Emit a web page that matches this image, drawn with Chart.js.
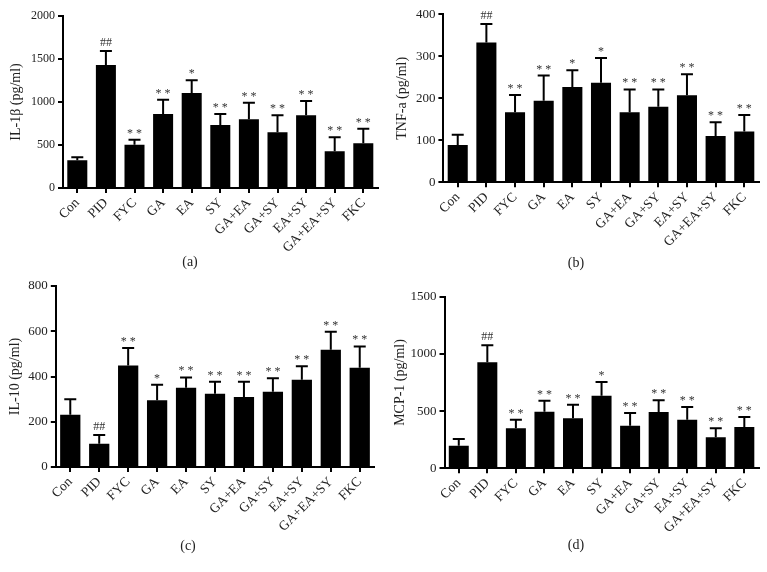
<!DOCTYPE html>
<html>
<head>
<meta charset="utf-8">
<script src="https://cdn.jsdelivr.net/npm/chart.js@4"></script>
<style>
  body { margin: 0; background: #fff; }
  #wrap { position: relative; width: 767px; height: 572px; overflow: hidden; }
  canvas { position: absolute; }
  .cap { position: absolute; transform: translate(-50%, -50%); font: 14px "Liberation Serif", "Times New Roman", serif; color: #222; }
</style>
</head>
<body>
<div id="wrap">
  <canvas id="chartA" width="384" height="286" style="left:0;top:0"></canvas>
  <canvas id="chartB" width="383" height="286" style="left:384px;top:0"></canvas>
  <canvas id="chartC" width="384" height="302" style="left:0;top:270px"></canvas>
  <canvas id="chartD" width="383" height="302" style="left:384px;top:270px"></canvas>
  <div class="cap" style="left:190px;top:262px">(a)</div>
  <div class="cap" style="left:576px;top:263px">(b)</div>
  <div class="cap" style="left:188px;top:546px">(c)</div>
  <div class="cap" style="left:576px;top:545px">(d)</div>
</div>
<script>
const groups = ['Con', 'PID', 'FYC', 'GA', 'EA', 'SY', 'GA+EA', 'GA+SY', 'EA+SY', 'GA+EA+SY', 'FKC'];

// IL-1β
const il1b = [322, 1430, 504, 860, 1105, 733, 798, 647, 845, 426, 519];
const il1bSd = [35, 163, 58, 167, 147, 127, 194, 198, 167, 163, 171];
const il1bSig = ['', '##', '**', '**', '*', '**', '**', '**', '**', '**', '**'];

// TNF-a
const tnf = [89, 333, 167, 194, 227, 237, 167, 180, 207, 110, 121];
const tnfSd = [24, 44, 41, 60, 40, 59, 54, 41, 50, 33, 39];
const tnfSig = ['', '##', '**', '**', '*', '*', '**', '**', '**', '**', '**'];

// IL-10
const il10 = [231, 103, 449, 295, 350, 324, 309, 333, 386, 518, 439];
const il10Sd = [69, 38, 77, 69, 46, 53, 68, 59, 59, 80, 94];
const il10Sig = ['', '##', '**', '*', '**', '**', '**', '**', '**', '**', '**'];

// MCP-1
const mcp1 = [198, 926, 350, 495, 437, 635, 373, 492, 425, 271, 361];
const mcp1Sd = [58, 149, 75, 96, 119, 119, 111, 102, 111, 79, 88];
const mcp1Sig = ['', '##', '**', '**', '**', '*', '**', '**', '**', '**', '**'];

const serif = '"Liberation Serif", "Times New Roman", serif';

// draws the upper error bar and the significance marks above each bar
const errorBars = {
  id: 'errorBars',
  afterDatasetsDraw(chart, args, opts) {
    const ctx = chart.ctx;
    const y = chart.scales.y;
    const values = chart.data.datasets[0].data;
    ctx.save();
    chart.getDatasetMeta(0).data.forEach((bar, i) => {
      const top = y.getPixelForValue(values[i] + opts.sd[i]);
      ctx.strokeStyle = '#000';
      ctx.lineWidth = 2;
      ctx.beginPath();
      ctx.moveTo(bar.x, bar.y);
      ctx.lineTo(bar.x, top);
      ctx.moveTo(bar.x - 6, top);
      ctx.lineTo(bar.x + 6, top);
      ctx.stroke();
      const mark = opts.sig[i];
      if (mark) {
        const star = mark.includes('*');
        ctx.fillStyle = '#333';
        ctx.font = '12px ' + serif;
        ctx.textAlign = 'center';
        ctx.textBaseline = 'alphabetic';
        ctx.fillText(star ? mark.split('').join(' ') : mark, bar.x, top - (star ? 3 : 5));
      }
    });
    ctx.restore();
  }
};

function makePanel(id, values, sd, sig, title, max, step, box) {
  return new Chart(document.getElementById(id), {
    type: 'bar',
    data: {
      labels: groups,
      datasets: [{ data: values, backgroundColor: '#000', borderWidth: 0,
        categoryPercentage: 1, barPercentage: 0.7 }]
    },
    options: {
      responsive: false,
      animation: false,
      layout: { padding: { left: 0, top: box.top, right: box.right, bottom: 0 } },
      plugins: {
        legend: { display: false },
        tooltip: { enabled: false },
        errorBars: { sd: sd, sig: sig }
      },
      scales: {
        x: {
          afterFit: s => { s.height = box.xh; },
          border: { display: true, color: '#000', width: 2 },
          grid: { display: true, offset: false, drawOnChartArea: false, drawTicks: true,
            tickLength: 5, color: '#000', lineWidth: 2 },
          ticks: { color: '#222', font: { family: serif, size: 13.5 }, padding: 2,
            minRotation: 45, maxRotation: 45, autoSkip: false }
        },
        y: {
          min: 0, max: max,
          afterFit: s => { s.width = box.yw; },
          border: { display: true, color: '#000', width: 2 },
          grid: { display: true, drawOnChartArea: false, drawTicks: true,
            tickLength: 5, color: '#000', lineWidth: 2 },
          ticks: { stepSize: step, color: '#222', padding: 3,
            font: { family: serif, size: box.tick },
            callback: v => String(v) },
          title: { display: true, text: title, color: '#222',
            font: { family: serif, size: 14 }, padding: { top: box.tp, bottom: 0 } }
        }
      }
    },
    plugins: [errorBars]
  });
}

makePanel('chartA', il1b, il1bSd, il1bSig, 'IL-1β (pg/ml)', 2000, 500,
  { top: 16, right: 6.4, yw: 63, xh: 98, tick: 12, tp: 8 });
makePanel('chartB', tnf, tnfSd, tnfSig, 'TNF-a (pg/ml)', 400, 100,
  { top: 14.3, right: 8.4, yw: 59.4, xh: 103.7, tick: 13, tp: 10 });
makePanel('chartC', il10, il10Sd, il10Sig, 'IL-10 (pg/ml)', 800, 200,
  { top: 16, right: 9.8, yw: 55.8, xh: 105, tick: 13, tp: 7 });
makePanel('chartD', mcp1, mcp1Sd, mcp1Sig, 'MCP-1 (pg/ml)', 1500, 500,
  { top: 26.7, right: 8.4, yw: 60.5, xh: 103.7, tick: 13, tp: 8 });
</script>
</body>
</html>
